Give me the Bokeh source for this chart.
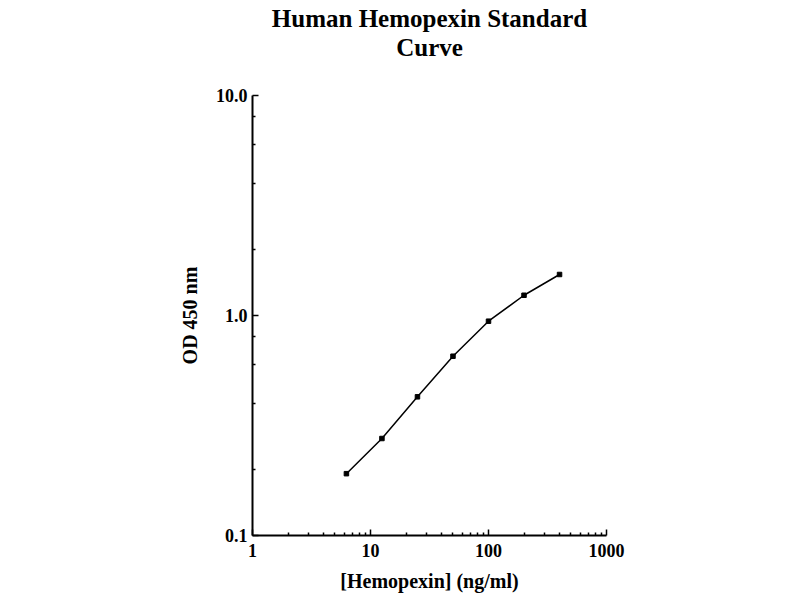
from bokeh.plotting import figure
from bokeh.models import (Range1d, FixedTicker, PrintfTickFormatter, Title,
                          LinearAxis)
from bokeh.embed import file_html
from bokeh.resources import INLINE

# Data
concentration = [6.25, 12.5, 25, 50, 100, 200, 400]          # ng/ml
od450 = [0.191, 0.276, 0.427, 0.653, 0.942, 1.236, 1.536]   # OD 450 nm

x_major = [1, 10, 100, 1000]
y_major = [0.1, 1, 10]
x_minor = [2, 3, 4, 5, 6, 7, 8, 9, 20, 30, 40, 50, 60, 70, 80, 90,
           200, 300, 400, 500, 600, 700, 800, 900]
y_minor = [0.2, 0.4, 0.6, 0.8, 2, 4, 6, 8]

title_lines = ["Human Hemopexin Standard", "Curve"]

FONT = "Liberation Serif"

p = figure(width=784, height=600, x_axis_type="log", y_axis_type="log",
           x_range=Range1d(1, 1000), y_range=Range1d(0.1, 10),
           output_backend="svg", toolbar_location=None,
           min_border_left=252, min_border_right=178,
           min_border_top=95, min_border_bottom=65)

p.outline_line_color = None
p.xgrid.visible = False
p.ygrid.visible = False
p.background_fill_color = "white"
p.border_fill_color = "white"

p.line(concentration, od450, line_color="black", line_width=1.5)
p.scatter(concentration, od450, marker="square", size=4.5, color="black")

xa = p.below[0]
xa.ticker = FixedTicker(ticks=x_major, minor_ticks=x_minor)
xa.formatter = PrintfTickFormatter(format="%d")
xa.axis_label = "[Hemopexin] (ng/ml)"

ya = p.left[0]
ya.ticker = FixedTicker(ticks=y_major, minor_ticks=y_minor)
ya.formatter = PrintfTickFormatter(format="%.1f")
ya.axis_label = "OD 450 nm"

for ax in (xa, ya):
    ax.axis_line_color = "black"
    ax.axis_line_width = 2
    ax.major_tick_in = 6
    ax.major_tick_out = 0
    ax.minor_tick_in = 3
    ax.minor_tick_out = 0
    ax.major_tick_line_color = "black"
    ax.major_tick_line_width = 1.5
    ax.minor_tick_line_color = "black"
    ax.minor_tick_line_width = 1.5
    ax.major_label_text_font = FONT
    ax.major_label_text_font_style = "bold"
    ax.major_label_text_font_size = "18px"
    ax.major_label_text_color = "black"
    ax.axis_label_text_font = FONT
    ax.axis_label_text_font_style = "bold"
    ax.axis_label_text_font_size = "20px"
    ax.axis_label_text_color = "black"

xa.major_label_standoff = 8
xa.axis_label_standoff = 10
ya.major_label_standoff = 5
ya.axis_label_standoff = 12

# blank spacer (no visible line, ticks or labels) between frame and title
spacer = LinearAxis(ticker=FixedTicker(ticks=[x_major[1]]),
                    formatter=PrintfTickFormatter(format=""),
                    axis_line_color=None,
                    major_tick_in=0, major_tick_out=35,
                    minor_tick_in=0, minor_tick_out=0,
                    major_tick_line_color=None, minor_tick_line_color=None,
                    major_label_standoff=0, axis_label_standoff=0)
p.add_layout(spacer, "above")

# title lines: first added is nearest the frame
for line in reversed(title_lines):
    p.add_layout(Title(text=line, align="center", text_font=FONT,
                       text_font_style="bold", text_font_size="25px",
                       text_color="black", standoff=0), "above")

open("out.html", "w").write(file_html(p, INLINE))
